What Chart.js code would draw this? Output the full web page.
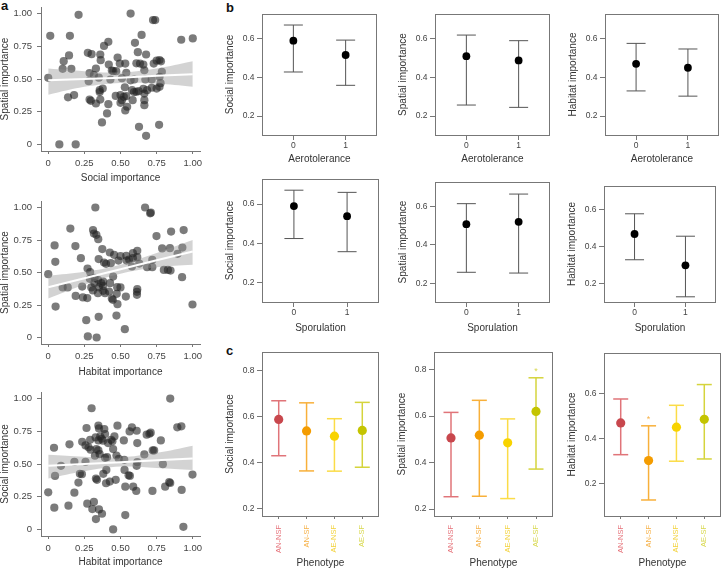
<!DOCTYPE html>
<html>
<head>
<meta charset="utf-8">
<script src="https://cdn.jsdelivr.net/npm/chart.js@4.4.0/dist/chart.umd.min.js"></script>
<style>
    body { margin: 0; background: #fff; }
    #fig { position: relative; width: 722px; height: 569px; overflow: hidden; font-family: "Liberation Sans", Arial, sans-serif; }
    #fig canvas { position: absolute; }
    .tag { position: absolute; font-weight: bold; font-size: 13px; line-height: 13px; color: #111; }
</style>
</head>
<body>
<div id="fig">
    <div class="tag" style="left:1px;top:-1px">a</div>
    <div class="tag" style="left:226px;top:1px">b</div>
    <div class="tag" style="left:226px;top:344px">c</div>
</div>
<script>
// ---- data: panel a (scatter + linear fit) ----
const scatterTicks = [0, 0.25, 0.5, 0.75, 1];
const scatterTickLabels = ['0', '0.25', '0.50', '0.75', '1.00'];
const fitX = [0, 0.25, 0.5, 0.75, 1];

const socialA = [0.21,0.57,0.74,0.725,0.014,0.15,0.92,1.00,0.646,0.60, 0.416,0.386,0.144,0.107,0.274,0.30,0.36,0.363,0.48,0.62,
    0.677,0.658,0.10,0.16,0.286,0.33,0.419,0.44,0.45,0.47, 0.495,0.533,0.54,0.61,0.635,0.665,0.73,0.75,0.77,0.78,
    0.786,0.0,0.28,0.35,0.316,0.43,0.51,0.57,0.595,0.672, 0.716,0.77,0.777,0.77,0.356,0.377,0.356,0.467,0.5,0.523,
    0.54,0.53,0.58,0.593,0.61,0.626,0.665,0.658,0.684,0.716, 0.75,0.286,0.295,0.33,0.36,0.416,0.5,0.51,0.546,0.533,
    0.584,0.665,0.665,0.137,0.179,0.407,0.372,0.628,0.767,0.677, 0.077,0.19];
const spatialA = [0.99,1.00,0.95,0.95,0.83,0.83,0.80,0.81,0.837,0.776, 0.784,0.753,0.68,0.636,0.70,0.69,0.687,0.644,0.664,0.705,
    0.687,0.61,0.578,0.578,0.545,0.58,0.61,0.565,0.56,0.56, 0.618,0.618,0.547,0.62,0.618,0.567,0.618,0.64,0.645,0.635,
    0.555,0.509,0.483,0.51,0.53,0.496,0.506,0.49,0.496,0.496, 0.496,0.517,0.468,0.44,0.415,0.427,0.40,0.371,0.377,0.364,
    0.369,0.437,0.415,0.40,0.402,0.407,0.389,0.425,0.415,0.433, 0.427,0.343,0.333,0.313,0.343,0.308,0.318,0.338,0.288,0.26,
    0.338,0.338,0.30,0.36,0.377,0.237,0.168,0.135,0.15,0.066, 0.0,0.0];
const fitA = [0.49, 0.50, 0.51, 0.525, 0.537];
const loA = [0.38, 0.44, 0.47, 0.465, 0.44];
const hiA = [0.58, 0.56, 0.55, 0.58, 0.635];

const habitatB = [0.326,0.67,0.71,0.705,0.153,0.31,0.316,0.333,0.346,0.044, 0.188,0.749,0.85,0.937,0.049,0.226,0.374,0.426,0.456,0.54,
    0.586,0.616,0.788,0.842,0.928,0.895,0.349,0.386,0.40,0.433, 0.486,0.542,0.586,0.616,0.63,0.684,0.72,0.80,0.828,0.846,
    0.926,0.0,0.19,0.1,0.135,0.235,0.272,0.29,0.288,0.321, 0.344,0.367,0.351,0.379,0.298,0.309,0.24,0.27,0.344,0.381,
    0.393,0.428,0.421,0.449,0.474,0.477,0.5,0.537,0.447,0.479, 0.616,0.614,0.614,0.44,0.349,0.472,0.53,0.051,0.263,0.274,
    0.335,0.998,0.72,0.579,0.5,0.56,0.38,0.32];
const spatialB = [1.0,1.0,0.96,0.955,0.838,0.826,0.80,0.79,0.756,0.708, 0.703,0.78,0.815,0.826,0.582,0.61,0.68,0.654,0.636,0.628,
    0.649,0.667,0.685,0.687,0.692,0.644,0.603,0.577,0.567,0.572, 0.592,0.592,0.61,0.618,0.569,0.541,0.541,0.52,0.52,0.515,
    0.464,0.487,0.32,0.385,0.385,0.392,0.53,0.503,0.451,0.459, 0.444,0.418,0.385,0.397,0.385,0.362,0.308,0.303,0.341,0.359,
    0.341,0.418,0.354,0.469,0.336,0.387,0.385,0.315,0.29,0.256, 0.372,0.351,0.328,0.30,0.159,0.169,0.064,0.238,0.133,0.008,
    0.0,0.254,0.597,0.546,0.626,0.60,0.43,0.42];
const fitB = [0.387, 0.456, 0.525, 0.594, 0.662];
const loB = [0.30, 0.405, 0.49, 0.54, 0.56];
const hiB = [0.475, 0.505, 0.56, 0.65, 0.75];

const habitatC = [0.844,0.3,0.265,0.347,0.351,0.388,0.479,0.579,0.612,0.563, 0.709,0.70,0.681,0.779,0.893,0.921,0.04,0.147,0.235,0.258,
    0.279,0.293,0.29,0.328,0.347,0.36,0.37,0.379,0.393,0.414, 0.435,0.444,0.458,0.449,0.333,0.347,0.356,0.323,0.393,0.407,
    0.472,0.488,0.526,0.616,0.523,0.665,0.723,0.733,0.616,0.612, 0.793,0.181,0.258,0.088,0.047,0.219,0.233,0.209,0.33,0.337,
    0.381,0.402,0.4,0.426,0.467,0.528,0.556,0.565,0.533,0.588, 0.609,0.721,0.809,0.837,0.844,0.923,0.998,0.0,0.181,0.042,
    0.14,0.27,0.316,0.305,0.351,0.372,0.33,0.533,0.449,0.935];
const socialC = [1.0,0.926,0.775,0.793,0.772,0.767,0.793,0.78,0.754,0.749, 0.739,0.731,0.724,0.68,0.78,0.788,0.624,0.65,0.67,0.642,
    0.627,0.609,0.685,0.703,0.68,0.711,0.693,0.678,0.729,0.66, 0.685,0.673,0.711,0.614,0.614,0.604,0.575,0.563,0.547,0.552,
    0.565,0.54,0.532,0.66,0.68,0.573,0.604,0.604,0.514,0.486, 0.499,0.517,0.517,0.486,0.409,0.425,0.422,0.358,0.389,0.379,
    0.425,0.455,0.353,0.366,0.379,0.455,0.414,0.409,0.327,0.327, 0.294,0.294,0.327,0.361,0.355,0.302,0.419,0.284,0.281,0.166,
    0.182,0.197,0.21,0.156,0.153,0.12,0.079,0.11,0.0,0.02];
const fitC = [0.486, 0.50, 0.514, 0.528, 0.542];
const loC = [0.39, 0.445, 0.48, 0.47, 0.455];
const hiC = [0.57, 0.555, 0.55, 0.585, 0.64];

// ---- data: panel b (binary traits, mean with interval) ----
const binaryGroups = [0, 1];
const importanceTicks = [0.2, 0.4, 0.6];
const aeroSocialMean = [0.59, 0.516], aeroSocialLo = [0.428, 0.359], aeroSocialHi = [0.671, 0.593];
const aeroSpatialMean = [0.51, 0.488], aeroSpatialLo = [0.257, 0.245], aeroSpatialHi = [0.619, 0.59];
const aeroHabitatMean = [0.47, 0.45], aeroHabitatLo = [0.33, 0.303], aeroHabitatHi = [0.576, 0.547];
const sporSocialMean = [0.59, 0.539], sporSocialLo = [0.425, 0.358], sporSocialHi = [0.671, 0.66];
const sporSpatialMean = [0.508, 0.52], sporSpatialLo = [0.257, 0.253], sporSpatialHi = [0.615, 0.665];
const sporHabitatMean = [0.469, 0.3], sporHabitatLo = [0.33, 0.13], sporHabitatHi = [0.578, 0.457];

// ---- data: panel c (phenotypes) ----
const phenotypes = ['AN-NSF', 'AN-SF', 'AE-NSF', 'AE-SF'];
const phenoIndex = [0, 1, 2, 3];
const importanceTicksWide = [0.2, 0.4, 0.6, 0.8];
const phenoSocialMean = [0.588, 0.538, 0.515, 0.54], phenoSocialLo = [0.43, 0.364, 0.363, 0.38], phenoSocialHi = [0.669, 0.66, 0.591, 0.662];
const phenoSpatialMean = [0.506, 0.518, 0.485, 0.62], phenoSpatialLo = [0.253, 0.255, 0.245, 0.372], phenoSpatialHi = [0.616, 0.668, 0.588, 0.765];
const phenoHabitatMean = [0.47, 0.303, 0.451, 0.486], phenoHabitatLo = [0.329, 0.128, 0.3, 0.31], phenoHabitatHi = [0.576, 0.457, 0.548, 0.64];
const phenoSpatialStar = [false, false, false, true];
const phenoHabitatStar = [false, true, false, false];

const FONT = '"Liberation Sans", Arial, sans-serif';
const dotColors = ['#c8474d', '#f49c00', '#f8d300', '#c4c400'];
const barColors = ['#e07479', '#f8b03a', '#fbdc47', '#d5d43c'];
const labelColors = ['#e6737b', '#f6b24a', '#f3d23c', '#d8d84e'];

// frame around the plotting area (b and c panels)
const framePlugin = {
    id: 'frame',
    afterDatasetsDraw(chart, args, opts) {
        if (!opts.color) return;
        const { ctx, chartArea: a } = chart;
        ctx.save();
        ctx.strokeStyle = opts.color;
        ctx.lineWidth = 1;
        ctx.strokeRect(a.left + 0.5, a.top + 0.5, a.right - a.left - 1, a.bottom - a.top);
        ctx.restore();
    }
};

// significance stars above the upper whisker
const starPlugin = {
    id: 'stars',
    afterDatasetsDraw(chart, args, opts) {
        if (!opts.show) return;
        const { ctx, scales: { x, y } } = chart;
        ctx.save();
        ctx.font = '9px ' + FONT;
        ctx.textAlign = 'center';
        ctx.textBaseline = 'middle';
        opts.show.forEach((s, i) => {
            if (!s) return;
            ctx.fillStyle = opts.colors[i];
            ctx.fillText('*', x.getPixelForValue(opts.cats[i]), y.getPixelForValue(opts.hi[i]) - 6);
        });
        ctx.restore();
    }
};

Chart.register(framePlugin, starPlugin);

const PAD = 12;
function makeCanvas(box, yW, xH) {
    const c = document.createElement('canvas');
    c.width = yW + (box.r - box.l) + PAD;
    c.height = PAD + (box.b - box.t) + xH + 4;
    c.style.left = (box.l - yW) + 'px';
    c.style.top = (box.t - PAD) + 'px';
    document.getElementById('fig').appendChild(c);
    return c;
}

function axis(o) {
    return {
        type: 'linear',
        min: o.min,
        max: o.max,
        afterBuildTicks: s => { s.ticks = o.ticks.map(v => ({ value: v })); },
        afterFit: s => { if (o.width) s.width = o.width; if (o.height) s.height = o.height; },
        ticks: {
            callback: o.label,
            color: o.color || '#444',
            font: { family: FONT, size: o.size },
            padding: o.padding,
            minRotation: o.rot || 0,
            maxRotation: o.rot || 0,
            autoSkip: false
        },
        grid: { display: true, drawOnChartArea: false, drawTicks: true, tickLength: o.tick, color: '#777' },
        border: { display: !!o.border, color: '#777' },
        title: { display: true, text: o.title, color: '#333', font: { family: FONT, size: 10 }, padding: 0 }
    };
}

function baseOptions(scales, plugins) {
    return {
        responsive: false,
        animation: false,
        events: [],
        layout: { padding: { left: 0, top: PAD, right: PAD, bottom: 4 } },
        scales: scales,
        plugins: Object.assign({ legend: { display: false }, tooltip: { enabled: false } }, plugins)
    };
}

function scatterPanel(box, xs, ys, fit, lo, hi, xTitle, yTitle, xH) {
    const canvas = makeCanvas(box, 42, xH);
    const pick = i => scatterTickLabels[scatterTicks.indexOf(i)];
    new Chart(canvas, {
        type: 'scatter',
        data: {
            datasets: [
                { type: 'line', data: fitX.map((x, i) => ({ x, y: fit[i] })), borderColor: '#fff', borderWidth: 2, pointRadius: 0, tension: 0, order: 1 },
                { type: 'line', data: fitX.map((x, i) => ({ x, y: hi[i] })), borderColor: 'transparent', borderWidth: 0, pointRadius: 0, tension: 0.4, fill: '+1', backgroundColor: 'rgba(150,150,150,0.42)', order: 2 },
                { type: 'line', data: fitX.map((x, i) => ({ x, y: lo[i] })), borderColor: 'transparent', borderWidth: 0, pointRadius: 0, tension: 0.4, fill: false, order: 2 },
                { data: xs.map((x, i) => ({ x, y: ys[i] })), pointRadius: 4.1, backgroundColor: 'rgba(35,35,35,0.6)', borderWidth: 0, order: 3 }
            ]
        },
        options: baseOptions({
            x: axis({ min: -0.05, max: 1.05, ticks: scatterTicks, label: pick, size: 9.5, padding: 4, tick: 3, border: true, title: xTitle, height: xH }),
            y: axis({ min: -0.05, max: 1.05, ticks: scatterTicks, label: pick, size: 9.5, padding: 5, tick: 4, border: true, title: yTitle, width: 42 })
        }, { frame: false, stars: false })
    });
}

function errorPanel(p) {
    const canvas = makeCanvas(p.box, 38, p.xH);
    const whiskers = p.cats.map((c, i) => ({
        data: [{ x: c, y: p.lo[i] }, { x: c, y: p.hi[i] }],
        showLine: true, borderColor: p.bars[i], borderWidth: p.lineW, pointRadius: 0, order: 3
    }));
    const caps = {
        data: p.cats.flatMap((c, i) => [{ x: c, y: p.lo[i] }, { x: c, y: p.hi[i] }]),
        pointStyle: 'line', pointRadius: p.capR, pointRotation: 0,
        pointBorderColor: p.cats.flatMap((c, i) => [p.bars[i], p.bars[i]]),
        pointBorderWidth: p.lineW, order: 2
    };
    const means = {
        data: p.cats.map((c, i) => ({ x: c, y: p.mean[i] })),
        pointStyle: 'circle', pointRadius: p.dotR,
        pointBackgroundColor: p.dots, pointBorderWidth: 0, order: 1
    };
    new Chart(canvas, {
        type: 'scatter',
        data: { datasets: whiskers.concat([caps, means]) },
        options: baseOptions({
            x: axis({
                min: p.xMin, max: p.xMax, ticks: p.cats, label: p.xLabel, size: p.xSize, padding: p.xPad, tick: p.xTick,
                rot: p.rot, color: p.xColor, title: p.xTitle, height: p.xH
            }),
            y: axis({
                min: p.yMin, max: p.yMax, ticks: p.yTicks, label: v => v.toFixed(1), size: 8.5, padding: 2.5, tick: 5,
                title: p.yTitle, width: 38
            })
        }, {
            frame: { color: '#777' },
            stars: p.stars ? { show: p.stars, colors: labelColors, cats: p.cats, hi: p.hi } : false
        })
    });
}

// panel a
scatterPanel({ l: 41, t: 7, r: 200, b: 151 }, socialA, spatialA, fitA, loA, hiA, 'Social importance', 'Spatial importance', 33);
scatterPanel({ l: 41, t: 201, r: 200, b: 344 }, habitatB, spatialB, fitB, loB, hiB, 'Habitat importance', 'Spatial importance', 34);
scatterPanel({ l: 41, t: 392, r: 200, b: 536 }, habitatC, socialC, fitC, loC, hiC, 'Habitat importance', 'Social importance', 32);

// panel b
const black = ['#000', '#000'];
const grey = ['#555', '#555'];
function binaryPanel(box, mean, lo, hi, xTitle, yTitle, xH) {
    errorPanel({
        box, cats: binaryGroups, mean, lo, hi, dots: black, bars: grey, lineW: 1, capR: 9.5, dotR: 3.9,
        xMin: -0.6, xMax: 1.6, xLabel: v => String(v), xSize: 8.5, xPad: 1, xTick: 5, rot: 0,
        yMin: 0.102, yMax: 0.728, yTicks: importanceTicks, xTitle, yTitle, xH
    });
}
binaryPanel({ l: 262, t: 14, r: 377, b: 135 }, aeroSocialMean, aeroSocialLo, aeroSocialHi, 'Aerotolerance', 'Social importance', 30);
binaryPanel({ l: 435, t: 14, r: 550, b: 135 }, aeroSpatialMean, aeroSpatialLo, aeroSpatialHi, 'Aerotolerance', 'Spatial importance', 30);
binaryPanel({ l: 605, t: 14, r: 719, b: 135 }, aeroHabitatMean, aeroHabitatLo, aeroHabitatHi, 'Aerotolerance', 'Habitat importance', 30);
binaryPanel({ l: 262, t: 179, r: 379, b: 302 }, sporSocialMean, sporSocialLo, sporSocialHi, 'Sporulation', 'Social importance', 32);
binaryPanel({ l: 435, t: 182, r: 550, b: 302 }, sporSpatialMean, sporSpatialLo, sporSpatialHi, 'Sporulation', 'Spatial importance', 32);
binaryPanel({ l: 604, t: 186, r: 716, b: 302 }, sporHabitatMean, sporHabitatLo, sporHabitatHi, 'Sporulation', 'Habitat importance', 32);

// panel c
function phenoPanel(box, mean, lo, hi, yMin, yMax, yTicks, yTitle, stars) {
    errorPanel({
        box, cats: phenoIndex, mean, lo, hi, dots: dotColors, bars: barColors, lineW: 1.5, capR: 7.5, dotR: 4.6,
        xMin: -0.6, xMax: 3.6, xLabel: v => phenotypes[v], xSize: 7.5, xPad: 6, xTick: 3, rot: 90,
        xColor: ctx => labelColors[ctx.index],
        yMin, yMax, yTicks, xTitle: 'Phenotype', yTitle, xH: 53, stars
    });
}
phenoPanel({ l: 262, t: 352, r: 379, b: 516 }, phenoSocialMean, phenoSocialLo, phenoSocialHi, 0.168, 0.881, importanceTicksWide, 'Social importance', null);
phenoPanel({ l: 434, t: 352, r: 553, b: 516 }, phenoSpatialMean, phenoSpatialLo, phenoSpatialHi, 0.17, 0.876, importanceTicksWide, 'Spatial importance', phenoSpatialStar);
phenoPanel({ l: 604, t: 353, r: 721, b: 516 }, phenoHabitatMean, phenoHabitatLo, phenoHabitatHi, 0.057, 0.78, importanceTicks, 'Habitat importance', phenoHabitatStar);
</script>
</body>
</html>
